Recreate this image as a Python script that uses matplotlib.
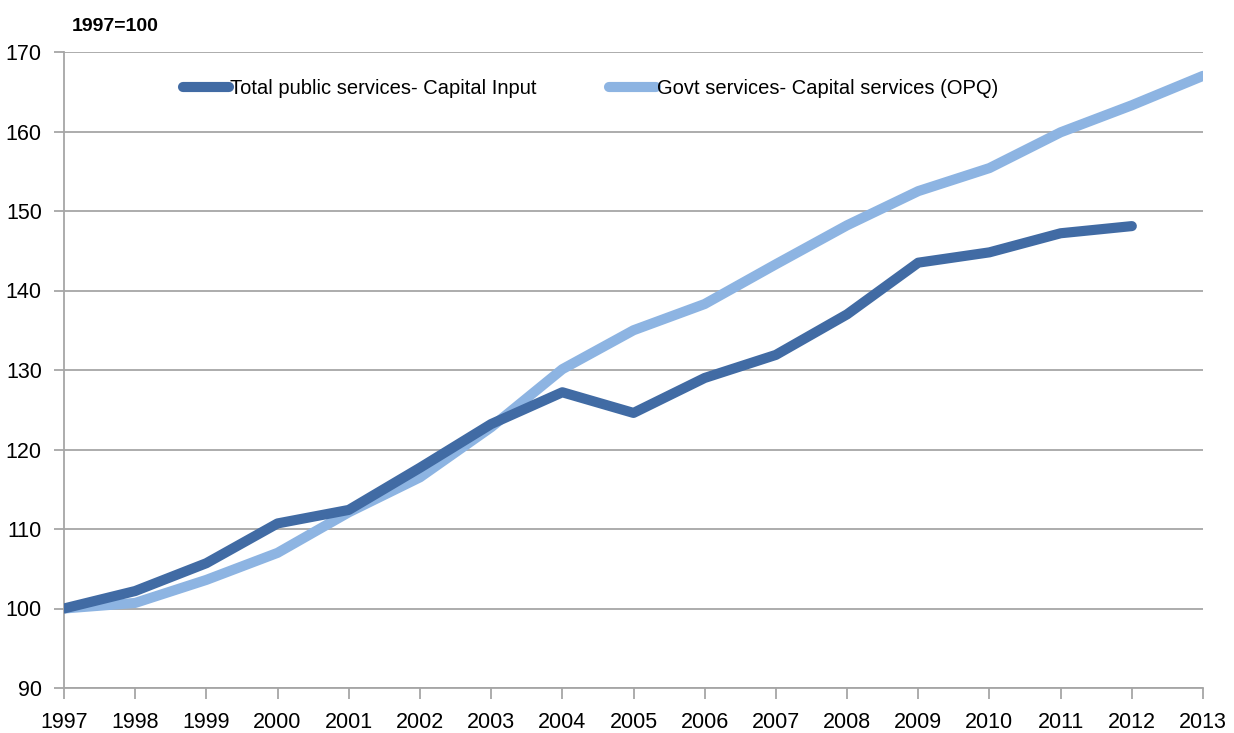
import matplotlib
matplotlib.use("Agg")
import matplotlib.pyplot as plt

years = list(range(1997, 2014))
total_public = [100.0, 102.2, 105.7, 110.7, 112.4, 117.7, 123.2, 127.2, 124.6,
                129.0, 131.9, 137.0, 143.5, 144.8, 147.2, 148.1]
govt_services = [100.0, 100.7, 103.6, 107.0, 112.1, 116.5, 122.8, 130.1, 135.0,
                 138.3, 143.3, 148.2, 152.5, 155.4, 159.9, 163.3, 167.0]
labels = ["Total public services- Capital Input",
          "Govt services- Capital services (OPQ)"]
y_ticks = list(range(90, 171, 10))

plt.rcParams['font.family'] = ['Liberation Sans', 'DejaVu Sans']

fig = plt.figure(figsize=(12.34, 7.33), dpi=100)
ax = fig.add_axes([64/1234, 1-688/733, (1203-64)/1234, (688-52)/733])

grid_c = '#A6A6A6'
ax.plot(years[:len(total_public)], total_public, color='#416BA4', lw=7.3,
        solid_capstyle='round', solid_joinstyle='round', label=labels[0], zorder=3)
ax.plot(years, govt_services, color='#8DB4E2', lw=7.3,
        solid_capstyle='round', solid_joinstyle='round', label=labels[1], zorder=2)

ax.set_xlim(1997, 2013)
ax.set_ylim(90, 170)
ax.set_xticks(years)
ax.set_xticklabels([str(y) for y in years])
ax.set_yticks(y_ticks)
ax.yaxis.grid(True, color=grid_c, lw=1.3)
ax.set_axisbelow(True)
for s in ['top', 'right']:
    ax.spines[s].set_visible(False)
for s in ['left', 'bottom']:
    ax.spines[s].set_color(grid_c)
    ax.spines[s].set_linewidth(1.3)
ax.tick_params(axis='x', direction='out', length=8, width=1.3, color=grid_c,
               labelsize=15.5, pad=9)
ax.tick_params(axis='y', direction='out', length=7, width=1.3, color=grid_c,
               labelsize=15.5, pad=9)

fig.text(72/1234, 1-31/733, "1997=100", fontsize=14, fontweight='bold',
         ha='left', va='baseline')

leg = ax.legend(loc='center left', bbox_to_anchor=(183/1234, 1-89/733),
                bbox_transform=fig.transFigure, ncol=2, frameon=False,
                fontsize=14.5, handlelength=2.3, handletextpad=0.05,
                columnspacing=3.6, borderpad=0, borderaxespad=0)

fig.savefig("out.png", dpi=100)
